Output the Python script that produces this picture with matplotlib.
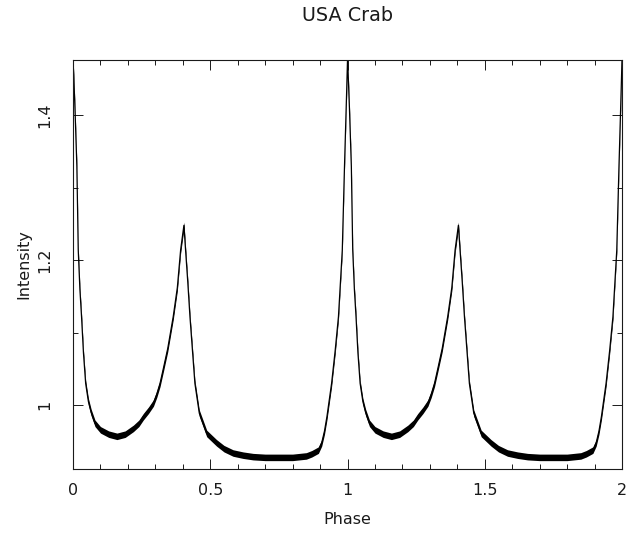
"""Crab pulse profile (USA), two cycles, in the old PGPLOT look."""

import matplotlib

matplotlib.use("Agg")
import matplotlib.pyplot as plt
from matplotlib.ticker import MultipleLocator
import numpy as np

# one rotation of the profile
PHASE = [0.000, 0.003, 0.007, 0.014, 0.019, 0.025, 0.031, 0.038, 0.046,
         0.056, 0.066, 0.080, 0.100, 0.130, 0.160, 0.190, 0.220, 0.240,
         0.256, 0.275, 0.293, 0.305, 0.317, 0.330, 0.345, 0.365, 0.380,
         0.392, 0.404, 0.410, 0.418, 0.426, 0.444, 0.460, 0.487, 0.523,
         0.550, 0.583, 0.620, 0.656, 0.700, 0.750, 0.800, 0.850, 0.870,
         0.894, 0.906, 0.916, 0.925, 0.942, 0.955, 0.967, 0.974, 0.981,
         0.989, 0.997]
INTENSITY = [1.476, 1.450, 1.410, 1.329, 1.214, 1.160, 1.122, 1.072, 1.030,
             1.005, 0.990, 0.975, 0.966, 0.960, 0.957, 0.960, 0.968, 0.975,
             0.984, 0.993, 1.003, 1.015, 1.030, 1.052, 1.078, 1.122, 1.162,
             1.214, 1.248, 1.214, 1.170, 1.122, 1.030, 0.989, 0.961, 0.948,
             0.940, 0.934, 0.931, 0.929, 0.928, 0.928, 0.928, 0.930, 0.933,
             0.938, 0.948, 0.964, 0.984, 1.030, 1.075, 1.122, 1.168, 1.214,
             1.329, 1.434]
NOISE = 0.0045         # half width of the noisy band
Y_RANGE = (0.912, 1.476)

TITLE = "USA Crab"
XLABEL = "Phase"
YLABEL = "Intensity"

# the profile is drawn twice, 0..1 and 1..2
ph = np.concatenate([PHASE, np.array(PHASE) + 1, [2.0]])
val = np.concatenate([INTENSITY, INTENSITY, [INTENSITY[0]]])

ink = "#1a1a1a"
plt.rcParams["font.family"] = ["DejaVu Sans"]
plt.rcParams["font.size"] = 11.5

fig = plt.figure(figsize=(6.35, 5.35), dpi=100)
ax = fig.add_axes([0.115, 0.1234, 0.8645, 0.7645])

ax.fill_between(ph, val - NOISE, val + NOISE, color="black", lw=0)
ax.plot(ph, val, color="black", lw=0.9)

ax.set_xlim(0, 2)
ax.set_ylim(*Y_RANGE)
ax.xaxis.set_major_locator(MultipleLocator(0.5))
ax.xaxis.set_minor_locator(MultipleLocator(0.1))
ax.yaxis.set_major_locator(MultipleLocator(0.2))
ax.yaxis.set_minor_locator(MultipleLocator(0.1))
ax.xaxis.set_major_formatter(lambda v, p: f"{v:g}")
ax.yaxis.set_major_formatter(lambda v, p: f"{v:g}")

ax.tick_params(which="both", direction="in", top=True, right=True,
               width=0.7, colors=ink)
ax.tick_params(which="major", length=7.5)
ax.tick_params(which="minor", length=3.6)
ax.tick_params(axis="x", pad=10)
ax.tick_params(axis="y", pad=15, labelrotation=90)
for lab in ax.get_yticklabels():
    lab.set_va("center")
for sp in ax.spines.values():
    sp.set_linewidth(0.8)
    sp.set_color(ink)

ax.set_title(TITLE, pad=28, color=ink)
ax.set_xlabel(XLABEL, labelpad=10, color=ink)
ax.set_ylabel(YLABEL, labelpad=4, color=ink)

fig.savefig("out.png", dpi=100)
